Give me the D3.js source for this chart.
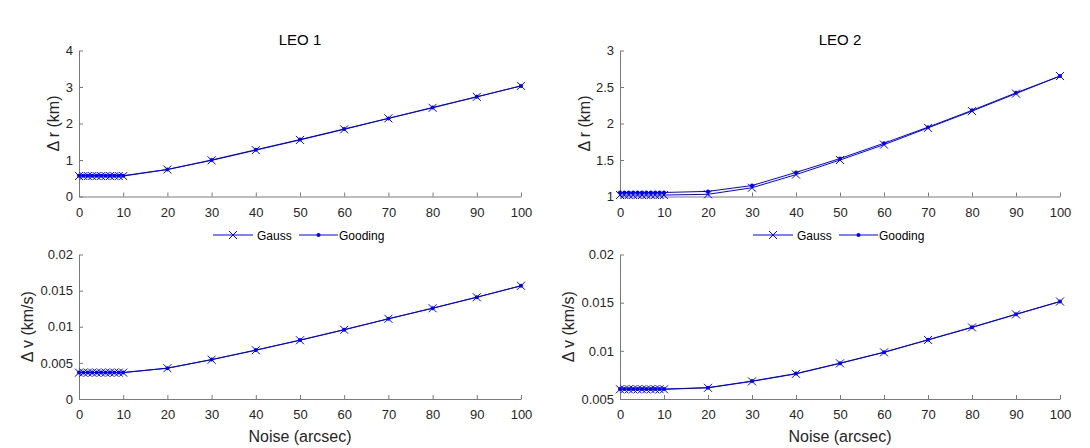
<!DOCTYPE html>
<html>
<head>
<meta charset="utf-8">
<script src="https://cdn.jsdelivr.net/npm/d3@7"></script>
<style>
  html, body { margin: 0; padding: 0; background: #fff; }
  svg { display: block; font-family: "Liberation Sans", Arial, sans-serif; }
</style>
</head>
<body>
<svg id="chart" width="1090" height="448"></svg>
<script>
// ---- data ----
const noise = [0, 1, 2, 3, 4, 5, 6, 7, 8, 9, 10, 20, 30, 40, 50, 60, 70, 80, 90, 100];
const xTicks = [0, 10, 20, 30, 40, 50, 60, 70, 80, 90, 100];

const leo1RGauss   = [0.56, 0.56, 0.56, 0.56, 0.56, 0.56, 0.56, 0.56, 0.56, 0.56, 0.56, 0.74, 0.99, 1.27, 1.55, 1.84, 2.14, 2.43, 2.73, 3.03];
const leo1RGooding = [0.57, 0.57, 0.57, 0.57, 0.57, 0.57, 0.57, 0.57, 0.57, 0.57, 0.57, 0.74, 1.00, 1.28, 1.56, 1.85, 2.14, 2.44, 2.73, 3.03];
const leo1VGauss   = [0.00365, 0.00365, 0.00365, 0.00365, 0.00365, 0.00365, 0.00365, 0.00365, 0.00365, 0.00365, 0.00365, 0.00426, 0.00544, 0.00675, 0.00813, 0.00958, 0.0111, 0.01256, 0.01408, 0.01567];
const leo1VGooding = [0.00367, 0.00367, 0.00367, 0.00367, 0.00367, 0.00367, 0.00367, 0.00367, 0.00367, 0.00367, 0.00367, 0.00427, 0.00546, 0.00677, 0.00815, 0.0096, 0.0111, 0.01257, 0.01409, 0.01567];

const leo2RGauss   = [1.02, 1.02, 1.02, 1.02, 1.02, 1.02, 1.02, 1.02, 1.02, 1.02, 1.02, 1.03, 1.12, 1.30, 1.50, 1.71, 1.94, 2.17, 2.41, 2.65];
const leo2RGooding = [1.055, 1.055, 1.055, 1.055, 1.055, 1.055, 1.055, 1.055, 1.055, 1.055, 1.055, 1.07, 1.15, 1.33, 1.52, 1.73, 1.95, 2.18, 2.42, 2.65];
const leo2VGauss   = [0.00601, 0.00601, 0.00601, 0.00601, 0.00601, 0.00601, 0.00601, 0.00601, 0.00601, 0.00601, 0.00601, 0.00616, 0.00683, 0.00761, 0.0087, 0.00984, 0.01113, 0.01243, 0.01378, 0.01512];
const leo2VGooding = [0.00603, 0.00603, 0.00603, 0.00603, 0.00603, 0.00603, 0.00603, 0.00603, 0.00603, 0.00603, 0.00603, 0.00618, 0.00686, 0.00764, 0.00872, 0.00986, 0.01115, 0.01245, 0.0138, 0.01512];

const rTicks1 = [0, 1, 2, 3, 4];
const rTicks2 = [1, 1.5, 2, 2.5, 3];
const vTicks1 = [0, 0.005, 0.01, 0.015, 0.02];
const vTicks2 = [0.005, 0.01, 0.015, 0.02];

const titles = ["LEO 1", "LEO 2"];
const seriesNames = ["Gauss", "Gooding"];

// ---- layout ----
const svg = d3.select("#chart");
const BLUE = "#0000ff";
const AXIS = "#7a7a7a";
const TEXT = "#262626";

const panels = [
  { x0: 79,  x1: 521,  y0: 50.5, y1: 196.5, dom: [0, 4],      ticks: rTicks1, fmt: d => d3.format("")(d), g: leo1RGauss, o: leo1RGooding, ylab: "Δ r (km)", ylx: 58.5, title: titles[0], legend: true },
  { x0: 620, x1: 1060, y0: 50.5, y1: 196.5, dom: [1, 3],      ticks: rTicks2, fmt: d => d3.format("")(d), g: leo2RGauss, o: leo2RGooding, ylab: "Δ r (km)", ylx: 589.5, title: titles[1], legend: true },
  { x0: 79,  x1: 521,  y0: 254.5, y1: 399, dom: [0, 0.02],    ticks: vTicks1, fmt: d => d3.format("")(+d.toFixed(4)), g: leo1VGauss, o: leo1VGooding, ylab: "Δ v (km/s)", ylx: 32.5, xlab: true },
  { x0: 620, x1: 1060, y0: 254.5, y1: 399, dom: [0.005, 0.02], ticks: vTicks2, fmt: d => d3.format("")(+d.toFixed(4)), g: leo2VGauss, o: leo2VGooding, ylab: "Δ v (km/s)", ylx: 573.5, xlab: true }
];

panels.forEach(p => {
  const x = d3.scaleLinear().domain([0, 100]).range([p.x0, p.x1]);
  const y = d3.scaleLinear().domain(p.dom).range([p.y1, p.y0]);
  const g = svg.append("g");

  // x axis
  const xa = g.append("g").attr("transform", `translate(0,${p.y1})`)
    .call(d3.axisBottom(x).tickValues(xTicks).tickSizeInner(-4).tickSizeOuter(0).tickPadding(8));
  // y axis
  const ya = g.append("g").attr("transform", `translate(${p.x0},0)`)
    .call(d3.axisLeft(y).tickValues(p.ticks).tickFormat(p.fmt).tickSizeInner(-4).tickSizeOuter(0).tickPadding(6));
  [xa, ya].forEach(a => {
    a.select(".domain").attr("stroke", AXIS).attr("stroke-width", 1);
    a.selectAll(".tick line").attr("stroke", AXIS);
    a.selectAll(".tick text").attr("fill", TEXT).style("font-size", "13px")
      .style("font-family", '"Liberation Sans", Arial, sans-serif');
  });
  xa.selectAll(".tick text").attr("dy", "0.71em").attr("y", 11);

  // y label
  g.append("text")
    .attr("transform", `translate(${p.ylx},${(p.y0 + p.y1) / 2}) rotate(-90)`)
    .attr("text-anchor", "middle").attr("fill", TEXT).style("font-size", "16px")
    .text(p.ylab);

  if (p.title) {
    g.append("text").attr("x", (p.x0 + p.x1) / 2).attr("y", 45)
      .attr("text-anchor", "middle").attr("fill", "#000").style("font-size", "15px")
      .text(p.title);
  }
  if (p.xlab) {
    g.append("text").attr("x", (p.x0 + p.x1) / 2).attr("y", 442)
      .attr("text-anchor", "middle").attr("fill", TEXT).style("font-size", "16px")
      .text("Noise (arcsec)");
  }

  const line = d3.line().x((d, i) => x(noise[i])).y(d => y(d));
  // Gauss
  g.append("path").datum(p.g).attr("d", line).attr("fill", "none").attr("stroke", BLUE).attr("stroke-width", 1);
  g.append("g").selectAll("path").data(p.g).join("path")
    .attr("d", (d, i) => { const cx = x(noise[i]), cy = y(d), s = 4;
      return `M${cx - s},${cy - s}L${cx + s},${cy + s}M${cx - s},${cy + s}L${cx + s},${cy - s}`; })
    .attr("stroke", BLUE).attr("stroke-width", 1).attr("fill", "none");
  // Gooding
  g.append("path").datum(p.o).attr("d", line).attr("fill", "none").attr("stroke", BLUE).attr("stroke-width", 1);
  g.append("g").selectAll("circle").data(p.o).join("circle")
    .attr("cx", (d, i) => x(noise[i])).attr("cy", d => y(d)).attr("r", 2).attr("fill", BLUE);

  if (p.legend) {
    const cx = (p.x0 + p.x1) / 2;
    const ly = 235;
    const lg = g.append("g").attr("transform", `translate(${cx - 87},${ly})`);
    // Gauss entry
    lg.append("line").attr("x1", 0).attr("x2", 40).attr("y1", 0).attr("y2", 0).attr("stroke", BLUE).attr("stroke-width", 1);
    lg.append("path").attr("d", "M16,-4L24,4M16,4L24,-4").attr("stroke", BLUE).attr("fill", "none");
    lg.append("text").attr("x", 44).attr("y", 4.5).attr("fill", "#000").style("font-size", "12px").text(seriesNames[0]);
    // Gooding entry
    lg.append("line").attr("x1", 86).attr("x2", 125).attr("y1", 0).attr("y2", 0).attr("stroke", BLUE).attr("stroke-width", 1);
    lg.append("circle").attr("cx", 105.5).attr("cy", 0).attr("r", 2).attr("fill", BLUE);
    lg.append("text").attr("x", 126).attr("y", 4.5).attr("fill", "#000").style("font-size", "12px").text(seriesNames[1]);
  }
});
</script>
</body>
</html>
